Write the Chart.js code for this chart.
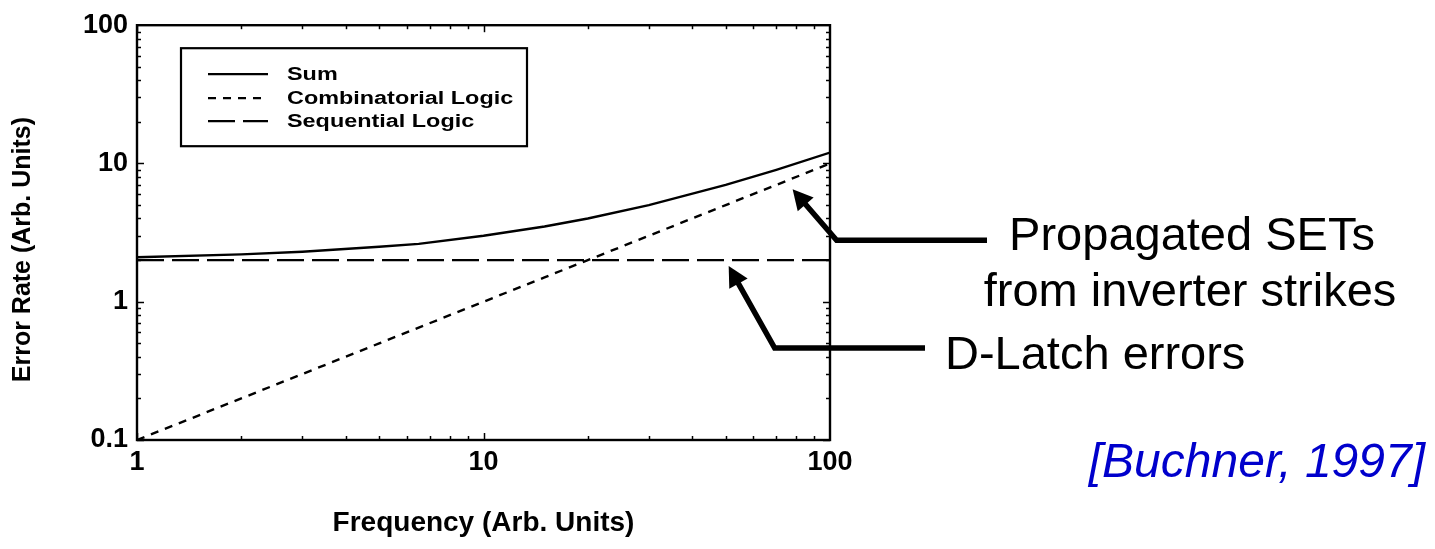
<!DOCTYPE html>
<html>
<head>
<meta charset="utf-8">
<script src="https://cdn.jsdelivr.net/npm/chart.js@4.4.1/dist/chart.umd.min.js"></script>
<style>
  html, body { margin: 0; padding: 0; background: #ffffff; }
  canvas { display: block; }
</style>
</head>
<body>
<canvas id="chart" width="1435" height="549"></canvas>
<script>
// Error rate vs. clock frequency (both in arbitrary units, log-log)
const frequency         = [1, 2, 3, 5, 6.5, 10, 15, 20, 30, 50, 70, 100];
const sumRate           = [2.1, 2.2, 2.3, 2.5, 2.62, 3.0, 3.5, 4.0, 5.0, 7.0, 9.0, 12.0];
const combinatorialRate = [0.1, 0.2, 0.3, 0.5, 0.65, 1.0, 1.5, 2.0, 3.0, 5.0, 7.0, 10.0];
const sequentialRate    = [2.0, 2.0, 2.0, 2.0, 2.0, 2.0, 2.0, 2.0, 2.0, 2.0, 2.0, 2.0];
const seriesNames       = ['Sum', 'Combinatorial Logic', 'Sequential Logic'];

const xTickValues = [1, 10, 100];
const xTickLabels = ['1', '10', '100'];
const yTickValues = [0.1, 1, 10, 100];
const yTickLabels = ['0.1', '1', '10', '100'];

const xTitle = 'Frequency (Arb. Units)';
const yTitle = 'Error Rate (Arb. Units)';

// Callouts: text lines and the (frequency, rate) point each arrow points at
const calloutTexts = [['Propagated SETs', 'from inverter strikes'], ['D-Latch errors']];
const calloutTipFreq = [78, 51];
const calloutTipRate = [6.5, 1.81];
const citation = '[Buchner, 1997]';

const FONT = '"Liberation Sans", Arial, Helvetica, sans-serif';

const toPoints = (ys) => frequency.map((f, i) => ({ x: f, y: ys[i] }));

// Inward tick marks on all four sides plus the closed frame
const frameTicks = {
  id: 'frameTicks',
  afterDatasetsDraw(chart) {
    const { ctx, chartArea: a, scales: { x, y } } = chart;
    ctx.save();
    ctx.strokeStyle = '#000';
    ctx.lineWidth = 1.5;
    const seg = (x1, y1, x2, y2) => { ctx.beginPath(); ctx.moveTo(x1, y1); ctx.lineTo(x2, y2); ctx.stroke(); };
    const decades = (s) => {
      const out = [];
      for (let e = Math.round(Math.log10(s.min)); e < Math.round(Math.log10(s.max)); e++) out.push(Math.pow(10, e));
      return out;
    };
    decades(x).forEach(d => {
      for (let m = 1; m <= 9; m++) {
        const px = Math.round(x.getPixelForValue(d * m)) + 0.5;
        const len = m === 1 ? 7 : 4;
        seg(px, a.bottom, px, a.bottom - len);
        seg(px, a.top, px, a.top + len);
      }
    });
    decades(y).forEach(d => {
      for (let m = 1; m <= 9; m++) {
        const py = Math.round(y.getPixelForValue(d * m)) + 0.5;
        const len = m === 1 ? 7 : 4;
        seg(a.left, py, a.left + len, py);
        seg(a.right, py, a.right - len, py);
      }
    });
    ctx.lineWidth = 2.4;
    ctx.strokeRect(a.left, a.top, a.right - a.left, a.bottom - a.top);
    ctx.restore();
  }
};

// Boxed legend inside the upper-left of the plot
const boxLegend = {
  id: 'boxLegend',
  afterDatasetsDraw(chart) {
    const { ctx, chartArea: a } = chart;
    const bx = a.left + 44, by = a.top + 23, bw = 346, bh = 98;
    ctx.save();
    ctx.fillStyle = '#fff';
    ctx.fillRect(bx, by, bw, bh);
    ctx.strokeStyle = '#000';
    ctx.lineWidth = 2.2;
    ctx.strokeRect(bx, by, bw, bh);
    const rows = [26, 50, 73];
    chart.data.datasets.forEach((ds, i) => {
      const ry = by + rows[i];
      ctx.beginPath();
      ctx.setLineDash(ds.borderDash || []);
      ctx.lineWidth = 2.2;
      ctx.moveTo(bx + 27, ry);
      ctx.lineTo(bx + 87, ry);
      ctx.stroke();
      ctx.setLineDash([]);
      ctx.save();
      ctx.translate(bx + 106, ry + 1);
      ctx.scale(1.3, 1);
      ctx.fillStyle = '#000';
      ctx.font = 'bold 18px ' + FONT;
      ctx.textBaseline = 'middle';
      ctx.textAlign = 'left';
      ctx.fillText(ds.label, 0, 0);
      ctx.restore();
    });
    ctx.restore();
  }
};

// Rotated y-axis title
const yAxisTitle = {
  id: 'yAxisTitle',
  afterDraw(chart) {
    const { ctx, chartArea: a } = chart;
    ctx.save();
    ctx.translate(23, (a.top + a.bottom) / 2 + 17);
    ctx.rotate(-Math.PI / 2);
    ctx.font = 'bold 25px ' + FONT;
    ctx.fillStyle = '#000';
    ctx.textAlign = 'center';
    ctx.textBaseline = 'middle';
    ctx.fillText(yTitle, 0, 0);
    ctx.restore();
  }
};

// Arrow callouts and citation to the right of the plot
const callouts = {
  id: 'callouts',
  afterDraw(chart) {
    const { ctx, scales: { x, y } } = chart;
    const layout = [
      { elbow: [44, 51], endX: 987, text: [{ x: 1192, y: 237, align: 'center' }, { x: 1190, y: 293, align: 'center' }] },
      { elbow: [46, 82], endX: 925, text: [{ x: 945, y: 356, align: 'left' }] }
    ];
    ctx.save();
    ctx.strokeStyle = '#000';
    ctx.fillStyle = '#000';
    calloutTexts.forEach((lines, i) => {
      const L = layout[i];
      const tx = x.getPixelForValue(calloutTipFreq[i]);
      const ty = y.getPixelForValue(calloutTipRate[i]);
      const ex = tx + L.elbow[0], ey = ty + L.elbow[1];
      const dx = tx - ex, dy = ty - ey, len = Math.hypot(dx, dy);
      const ux = dx / len, uy = dy / len;
      const headLen = 20, headHalf = 10.5;
      const baseX = tx - ux * headLen, baseY = ty - uy * headLen;
      ctx.lineWidth = 5.5;
      ctx.lineJoin = 'miter';
      ctx.beginPath();
      ctx.moveTo(L.endX, ey);
      ctx.lineTo(ex, ey);
      ctx.lineTo(baseX + ux * 2, baseY + uy * 2);
      ctx.stroke();
      ctx.beginPath();
      ctx.moveTo(tx, ty);
      ctx.lineTo(baseX - uy * headHalf, baseY + ux * headHalf);
      ctx.lineTo(baseX + uy * headHalf, baseY - ux * headHalf);
      ctx.closePath();
      ctx.fill();
      ctx.font = '47px ' + FONT;
      ctx.textBaseline = 'middle';
      lines.forEach((t, j) => {
        ctx.textAlign = L.text[j].align;
        ctx.fillText(t, L.text[j].x, L.text[j].y);
      });
    });
    ctx.font = 'italic 48px ' + FONT;
    ctx.fillStyle = '#0000CC';
    ctx.textAlign = 'right';
    ctx.textBaseline = 'middle';
    ctx.fillText(citation, 1425, 464);
    ctx.restore();
  }
};

new Chart(document.getElementById('chart'), {
  type: 'line',
  data: {
    datasets: [
      { label: seriesNames[0], data: toPoints(sumRate), borderDash: [] },
      { label: seriesNames[1], data: toPoints(combinatorialRate), borderDash: [8, 7] },
      { label: seriesNames[2], data: toPoints(sequentialRate), borderDash: [27, 8] }
    ].map(ds => Object.assign(ds, { borderColor: '#000', borderWidth: 2.4, pointRadius: 0, tension: 0, fill: false }))
  },
  options: {
    responsive: false,
    animation: false,
    devicePixelRatio: 1,
    layout: { padding: { top: 21, right: 605, left: 0, bottom: 0 } },
    plugins: { legend: { display: false }, tooltip: { enabled: false } },
    scales: {
      x: {
        type: 'logarithmic',
        min: 1, max: 100,
        grid: { display: false, drawTicks: false },
        border: { display: false },
        afterFit(s) { s.height = 109; },
        afterBuildTicks(s) { s.ticks = xTickValues.map(v => ({ value: v })); },
        ticks: {
          padding: 6,
          color: '#000',
          font: { family: FONT, size: 27, weight: 'bold' },
          maxRotation: 0,
          callback: (v) => xTickLabels[xTickValues.indexOf(v)] ?? ''
        },
        title: {
          display: true, text: xTitle, color: '#000',
          font: { family: FONT, size: 28, weight: 'bold' },
          padding: { top: 0, bottom: 9 }
        }
      },
      y: {
        type: 'logarithmic',
        min: 0.1, max: 100,
        grid: { display: false, drawTicks: false },
        border: { display: false },
        afterFit(s) { s.width = 137; },
        afterBuildTicks(s) { s.ticks = yTickValues.map(v => ({ value: v })); },
        ticks: {
          padding: 9,
          color: '#000',
          font: { family: FONT, size: 27, weight: 'bold' },
          callback: (v) => yTickLabels[yTickValues.indexOf(v)] ?? ''
        }
      }
    }
  },
  plugins: [frameTicks, boxLegend, yAxisTitle, callouts]
});
</script>
</body>
</html>
